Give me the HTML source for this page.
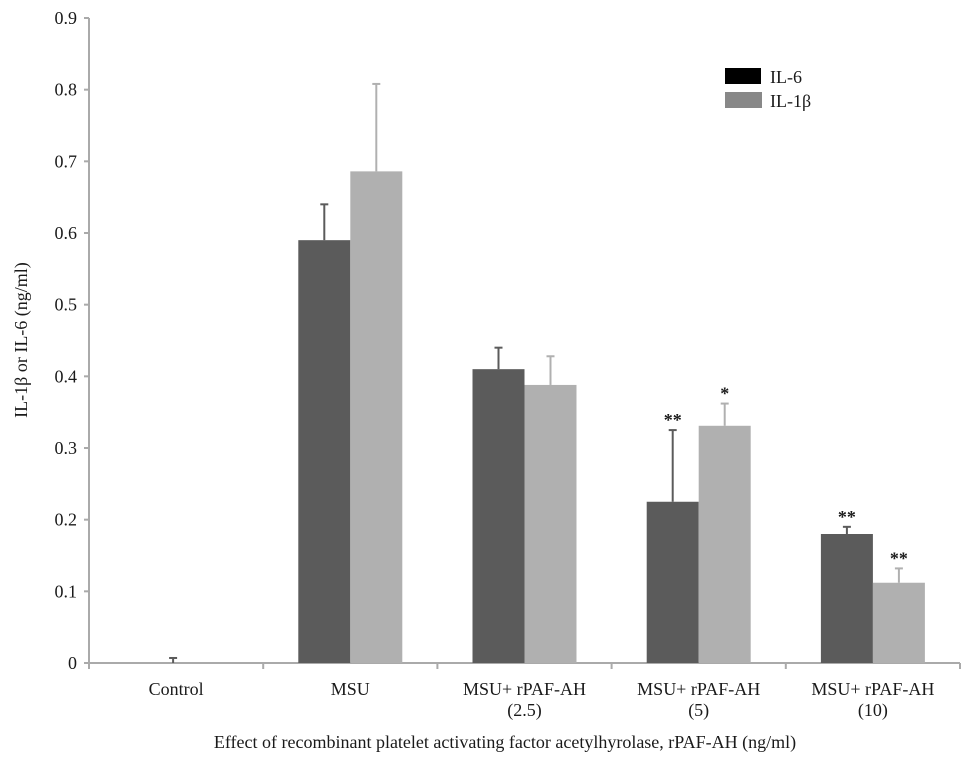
<!DOCTYPE html>
<html><head><meta charset="utf-8"><style>
body{margin:0;background:#fff;}
svg text{font-family:"Liberation Serif",serif;fill:#1a1a1a;}
</style></head><body>
<svg id="chart" width="969" height="760">
<g id="axes"></g><g id="bars"></g>
<g>
<rect x="725" y="68" width="36" height="16" fill="#000"/>
<text x="770" y="83" font-size="18">IL-6</text>
<rect x="725" y="92" width="37" height="16" fill="#888"/>
<text x="770" y="107" font-size="18">IL-1β</text>
</g>
<text transform="translate(27,340) rotate(-90)" text-anchor="middle" font-size="18">IL-1β or IL-6  (ng/ml)</text>
<text x="505" y="748" text-anchor="middle" font-size="18">Effect of recombinant platelet activating factor acetylhyrolase, rPAF-AH (ng/ml)</text>
</svg>
<script>
const categories=[["Control"],["MSU"],["MSU+ rPAF-AH","(2.5)"],["MSU+ rPAF-AH","(5)"],["MSU+ rPAF-AH","(10)"]];
const il6=[0,0.59,0.41,0.225,0.18];
const il6Err=[0.007,0.05,0.03,0.1,0.01];
const il1b=[0,0.686,0.388,0.331,0.112];
const il1bErr=[0,0.122,0.04,0.031,0.02];
const il6Sig=["","","","**","**"];
const il1bSig=["","","","*","**"];
const yTicks=[0,0.1,0.2,0.3,0.4,0.5,0.6,0.7,0.8,0.9];
const NS="http://www.w3.org/2000/svg";
const x0=89,x1=960,y0=663,yTop=18;
const cw=(x1-x0)/categories.length;
const y=v=>y0-(v/0.9)*(y0-yTop);
const bw=52;
function mk(t,a,p){const e=document.createElementNS(NS,t);for(const k in a)e.setAttribute(k,a[k]);p.appendChild(e);return e;}
const ax=document.getElementById('axes'),bg=document.getElementById('bars');
const yl=mk('line',{x1:x0,y1:yTop,x2:x0,y2:y0,stroke:'#aaa','stroke-width':2},ax);


const xl=mk('line',{x1:x0,y1:y0,x2:x1,y2:y0,stroke:'#aaa','stroke-width':2},ax);


yTicks.forEach(v=>{
 mk('line',{x1:x0-5,y1:y(v),x2:x0,y2:y(v),stroke:'#aaa','stroke-width':2},ax);
 const t=mk('text',{x:x0-12,y:y(v)+6,'text-anchor':'end','font-size':18},ax);
 t.textContent=String(v);
 
 
});
for(let i=0;i<=categories.length;i++){mk('line',{x1:x0+i*cw,y1:y0,x2:x0+i*cw,y2:y0+6,stroke:'#aaa','stroke-width':2},ax);}
categories.forEach((c,i)=>{
 const cx=x0+(i+0.5)*cw;
 c.forEach((s,j)=>{const t=mk('text',{x:cx,y:695+j*21,'text-anchor':'middle','font-size':18},ax);t.textContent=s;
 
 });
 [[il6,il6Err,il6Sig,'#5b5b5b',-bw],[il1b,il1bErr,il1bSig,'#b0b0b0',0]].forEach(([vals,errs,sig,col,off],k)=>{
  const v=vals[i],bx=cx+off;
  if(v>0){const r=mk('rect',{x:bx,y:y(v),width:bw,height:y0-y(v),fill:col},bg);
  
  }
  const ec=v>0?bx+bw/2:cx-3;
  if(errs[i]>0){mk('line',{x1:ec,y1:y(v),x2:ec,y2:y(v+errs[i]),stroke:col,'stroke-width':2},bg);
  mk('line',{x1:ec-4,y1:y(v+errs[i]),x2:ec+4,y2:y(v+errs[i]),stroke:col,'stroke-width':2},bg);}
  if(sig[i]){const t=mk('text',{x:ec,y:y(v+errs[i])-4,'text-anchor':'middle','font-size':18,'font-weight':'bold'},bg);t.textContent=sig[i];
  
  }
 });
});
</script>
</body></html>
